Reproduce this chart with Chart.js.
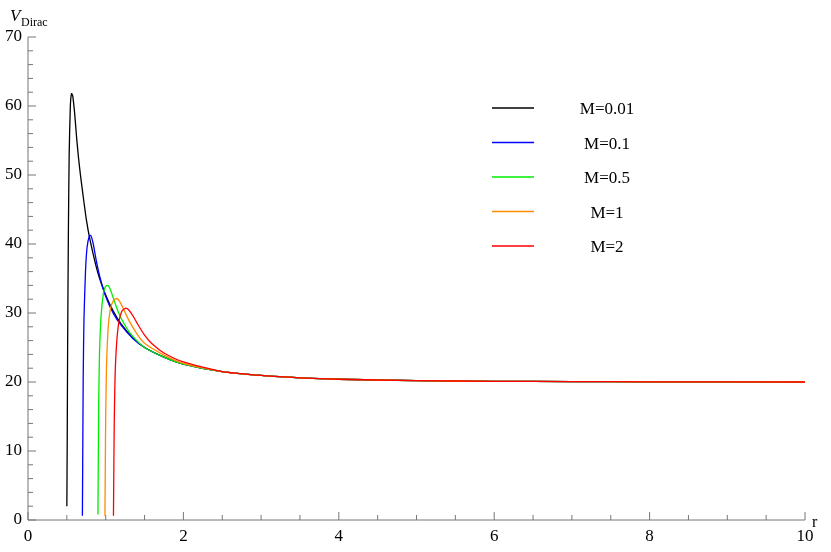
<!DOCTYPE html>
<html><head><meta charset="utf-8">
<script src="https://cdn.jsdelivr.net/npm/chart.js@4/dist/chart.umd.min.js"></script>
<style>html,body{margin:0;padding:0;background:#fff}#w{width:831px;height:552px}</style>
</head><body><div id="w"><canvas id="c"></canvas></div>
<script>
const labels = ["M=0.01","M=0.1","M=0.5","M=1","M=2"];
const colors = ["#000000","#0000ff","#00ee00","#ff8c00","#ff0000"];
const tail = [[2.5,21.5],[3,20.95],[3.5,20.6],[4,20.4],[5,20.2],[6,20.1],[7,20.06],[8,20.03],[10,20.0]];
const xM001 = [0.5,0.505,0.51,0.52,0.53,0.545,0.56,0.575,0.6,0.625,0.65,0.675,0.7,0.75,0.8,0.9,1.0,1.1,1.2,1.35,1.5,1.75,2.0];
const yM001 = [2,12,25,42,53,60,61.8,61.5,59,55.5,52.5,50,47.8,43.6,40.5,35.8,32.6,30.2,28.4,26.4,25.0,23.6,22.6];
const xM01 = [0.7,0.705,0.71,0.72,0.74,0.76,0.79,0.81,0.84,0.88,0.93,1.0,1.1,1.2,1.35,1.5,1.75,2.0];
const yM01 = [0.6,10,20,29,36,39.5,41.2,41.2,40,37.5,35,32.4,29.9,28.2,26.3,25.0,23.6,22.6];
const xM05 = [0.9,0.905,0.91,0.92,0.94,0.97,1.0,1.03,1.06,1.1,1.15,1.2,1.3,1.4,1.5,1.75,2.0];
const yM05 = [0.8,9,17,24,29.5,32.8,33.9,34.0,33.4,32.1,30.5,29.2,27.3,26.0,25.0,23.6,22.6];
const xM1 = [0.99,0.995,1.0,1.01,1.03,1.06,1.1,1.14,1.18,1.22,1.3,1.4,1.5,1.75,2.0];
const yM1 = [0.6,8,15,22,27.5,30.6,31.8,32.1,31.7,30.8,28.9,27.0,25.6,23.9,22.7];
const xM2 = [1.1,1.105,1.11,1.12,1.14,1.17,1.21,1.26,1.3,1.35,1.4,1.5,1.6,1.75,2.0];
const yM2 = [0.6,8,14,20.5,25.5,28.7,30.3,30.7,30.4,29.6,28.6,26.8,25.5,24.2,22.9];
const xs=[xM001,xM01,xM05,xM1,xM2], ys=[yM001,yM01,yM05,yM1,yM2];
const datasets = labels.map((l,i)=>({label:l,borderColor:colors[i],borderWidth:1.3,pointRadius:0,showLine:true,tension:0.2,order:labels.length-i,
  data: xs[i].map((x,j)=>({x:x,y:ys[i][j]})).concat(tail.map(p=>({x:p[0],y:p[1]})))}));
const F='"Liberation Serif", serif';
const deco={id:'deco',afterDraw(ch){
  const c=ch.ctx,xs_=ch.scales.x,ys_=ch.scales.y,a=ch.chartArea;
  c.save();c.strokeStyle='#777';c.lineWidth=1;
  c.beginPath();c.moveTo(a.left,a.top);c.lineTo(a.left,a.bottom);c.lineTo(a.right,a.bottom);c.stroke();
  for(let v=0;v<=10.001;v+=0.5){const p=xs_.getPixelForValue(v);const L=(Math.abs(v%2)<1e-6)?8:5;c.beginPath();c.moveTo(p,a.bottom);c.lineTo(p,a.bottom-L);c.stroke();}
  for(let v=0;v<=70.001;v+=2){const p=ys_.getPixelForValue(v);const L=(v%10===0)?8:5;c.beginPath();c.moveTo(a.left,p);c.lineTo(a.left+L,p);c.stroke();}
  c.fillStyle='#000';c.font='italic 17px '+F;c.textBaseline='alphabetic';c.fillText('V',10,21);
  c.font='12px '+F;c.fillText('Dirac',21,26);
  c.font='16px '+F;c.fillText('r',812,527);
  c.font='17px '+F;c.textAlign='center';
  for(let i=0;i<labels.length;i++){const y=108+i*34.5;c.strokeStyle=colors[i];c.lineWidth=1.3;c.beginPath();c.moveTo(492,y);c.lineTo(534,y);c.stroke();c.fillText(labels[i],607,y+6);}
  c.restore();}};
new Chart(document.getElementById('c'),{type:'scatter',data:{datasets},plugins:[deco],
options:{responsive:true,maintainAspectRatio:false,animation:false,layout:{padding:{top:37,right:26,left:0,bottom:0}},
plugins:{legend:{display:false},tooltip:{enabled:false}},
scales:{x:{type:'linear',min:0,max:10,border:{display:false},grid:{display:false,drawTicks:false},afterFit(s){s.height=32;},
  ticks:{stepSize:2,color:'#000',font:{family:F,size:17},padding:6}},
 y:{min:0,max:70,border:{display:false},grid:{display:false,drawTicks:false},afterFit(s){s.width=28;},
  ticks:{stepSize:10,color:'#000',font:{family:F,size:17},padding:6}}}}});
</script></body></html>
